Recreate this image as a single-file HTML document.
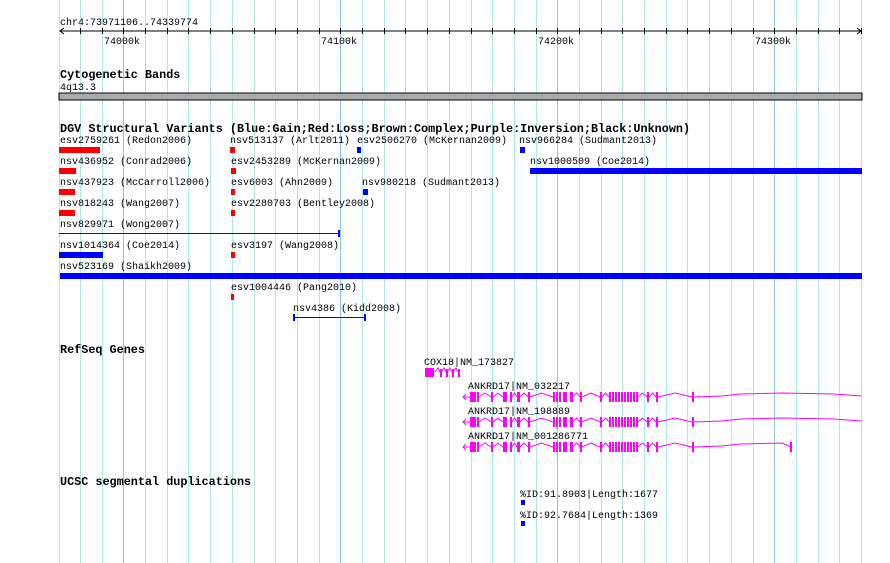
<!DOCTYPE html>
<html><head><meta charset="utf-8"><style>
html,body{margin:0;padding:0;background:#fff;}
svg{display:block;}
text{font-family:"Liberation Mono","DejaVu Sans Mono",monospace;font-size:10px;fill:#000;}
.b{font-weight:bold;font-size:11.8px;}
</style></head><body>
<svg id="s" width="890" height="563" xmlns="http://www.w3.org/2000/svg">
<g id="grid"></g>
<text x="60" y="25">chr4:73971106..74339774</text>
<line x1="60" y1="31" x2="861" y2="31" stroke="#000"/>
<path d="M64,28 L60,31 L64,34 M857,28 L861,31 L857,34" stroke="#000" fill="none"/>
<g id="ticks"></g>
<text x="104" y="44">74000k</text>
<text x="321" y="44">74100k</text>
<text x="538" y="44">74200k</text>
<text x="755" y="44">74300k</text>
<text class="b" x="60" y="78">Cytogenetic Bands</text>
<text x="60" y="90">4q13.3</text>
<rect x="59" y="93" width="803" height="7" fill="#aaa" stroke="#000" stroke-width="1"/>
<text class="b" x="60" y="132">DGV Structural Variants (Blue:Gain;Red:Loss;Brown:Complex;Purple:Inversion;Black:Unknown)</text>
<text x="60" y="143">esv2759261 (Redon2006)</text>
<rect x="59" y="147" width="41" height="6" fill="#f00"/>
<text x="230" y="143">nsv513137 (Arlt2011)</text>
<rect x="230" y="147" width="5" height="6" fill="#f00"/>
<text x="357" y="143">esv2506270 (McKernan2009)</text>
<rect x="357" y="147" width="4" height="6" fill="#00f"/>
<text x="519" y="143">nsv966284 (Sudmant2013)</text>
<rect x="520" y="147" width="5" height="6" fill="#00f"/>
<text x="60" y="164">nsv436952 (Conrad2006)</text>
<rect x="59" y="168" width="17" height="6" fill="#f00"/>
<text x="231" y="164">esv2453289 (McKernan2009)</text>
<rect x="231" y="168" width="5" height="6" fill="#f00"/>
<text x="530" y="164">nsv1000509 (Coe2014)</text>
<rect x="530" y="168" width="332" height="6" fill="#00f"/>
<text x="60" y="185">nsv437923 (McCarroll2006)</text>
<rect x="59" y="189" width="16" height="6" fill="#f00"/>
<text x="231" y="185">esv6003 (Ahn2009)</text>
<rect x="231" y="189" width="4" height="6" fill="#f00"/>
<text x="362" y="185">nsv980218 (Sudmant2013)</text>
<rect x="363" y="189" width="5" height="6" fill="#00f"/>
<text x="60" y="206">nsv818243 (Wang2007)</text>
<rect x="59" y="210" width="16" height="6" fill="#f00"/>
<text x="231" y="206">esv2280703 (Bentley2008)</text>
<rect x="231" y="210" width="4" height="6" fill="#f00"/>
<text x="60" y="227">nsv829971 (Wong2007)</text>
<line x1="59" y1="233.5" x2="339" y2="233.5" stroke="#00f"/>
<rect x="338" y="230" width="2" height="7" fill="#00f"/>
<text x="60" y="248">nsv1014364 (Coe2014)</text>
<rect x="59" y="252" width="44" height="6" fill="#00f"/>
<text x="231" y="248">esv3197 (Wang2008)</text>
<rect x="231" y="252" width="4" height="6" fill="#f00"/>
<text x="60" y="269">nsv523169 (Shaikh2009)</text>
<rect x="60" y="273" width="802" height="6" fill="#00f"/>
<text x="231" y="290">esv1004446 (Pang2010)</text>
<rect x="231" y="294" width="3" height="6" fill="#f00"/>
<text x="293" y="311">nsv4386 (Kidd2008)</text>
<line x1="294" y1="317.5" x2="365" y2="317.5" stroke="#00f"/>
<rect x="293" y="314" width="2" height="7" fill="#00f"/>
<rect x="364" y="314" width="2" height="7" fill="#00f"/>
<text class="b" x="60" y="353">RefSeq Genes</text>
<text x="424" y="365">COX18|NM_173827</text>
<g id="cox" fill="#f0f" stroke="#f0f"></g>
<text x="468" y="389">ANKRD17|NM_032217</text>
<text x="468" y="414">ANKRD17|NM_198889</text>
<text x="468" y="439">ANKRD17|NM_001286771</text>
<g id="genes"></g>
<text class="b" x="60" y="485">UCSC segmental duplications</text>
<text x="520" y="497">%ID:91.8903|Length:1677</text>
<rect x="521" y="500" width="4" height="5" fill="#00f"/>
<text x="520" y="518">%ID:92.7684|Length:1369</text>
<rect x="521" y="521" width="4" height="5" fill="#00f"/>
</svg>
<script>
var NS="http://www.w3.org/2000/svg";
function el(p,t,a){var e=document.createElementNS(NS,t);for(var k in a)e.setAttribute(k,a[k]);p.appendChild(e);return e;}
var g=document.getElementById('grid'),tk=document.getElementById('ticks');
el(g,'line',{x1:59.5,y1:0,x2:59.5,y2:563,stroke:'#aee8ee'});
for(var i=-2;i<40;i++){var x=Math.round(123.3+21.7*i)+0.5;if(x<70||x>862)continue;
 var major=(i%10===0);
 el(g,'line',{x1:x,y1:0,x2:x,y2:563,stroke:major?'#8cc8e8':'#aee8ee'});
 el(tk,'line',{x1:x,y1:28,x2:x,y2:34,stroke:'#000'});}
var c=document.getElementById('cox');
el(c,'rect',{x:425,y:368,width:9,height:9,stroke:'none'});
[440,446,452,458].forEach(function(x,i){el(c,'rect',{x:x,y:369,width:2,height:8,stroke:'none'});
 el(c,'polyline',{points:(x-5)+',372 '+(x-2)+',368 '+x+',372',fill:'none'});});
var G=document.getElementById('genes');
var ex=[[470,6],[477,2],[491,2],[503,4],[510,2],[517,3],[528,2],[553,2],[556,2],[559,2],[563,4],[570,3],[580,2],[600,2],[609,2],[612,2],[615,2],[618,2],[621,2],[624,2],[627,2],[630,2],[633,2],[636,2],[647,2],[656,2],[692,2]];
[[397,861],[422,861],[447,791]].forEach(function(r){var y=r[0];
 el(G,'path',{d:'M463,'+y+' L470,'+y+' M466,'+(y-3)+' L463,'+y+' L466,'+(y+3),stroke:'#f0f',fill:'none'});
 var prev=476;
 for(var i=1;i<ex.length;i++){var x=ex[i][0];if(x-prev>4){var m=(prev+x)/2;el(G,'polyline',{points:prev+','+y+' '+m+','+(y-4)+' '+x+','+y,stroke:'#f0f',fill:'none'});}prev=x+ex[i][1];}
 el(G,'polyline',{points:'694,'+y+' 722,'+(y-1)+' 740,'+(y-3)+' 782,'+(y-4)+(r[1]>800?' 834,'+(y-3)+' 861,'+(y-1):' 791,'+y),stroke:'#f0f',fill:'none'});
 ex.forEach(function(e){el(G,'rect',{x:e[0],y:y-5,width:e[1],height:10,fill:'#f0f'});});
 if(r[1]<800)el(G,'rect',{x:790,y:y-5,width:2,height:10,fill:'#f0f'});
});
</script>
</body></html>
